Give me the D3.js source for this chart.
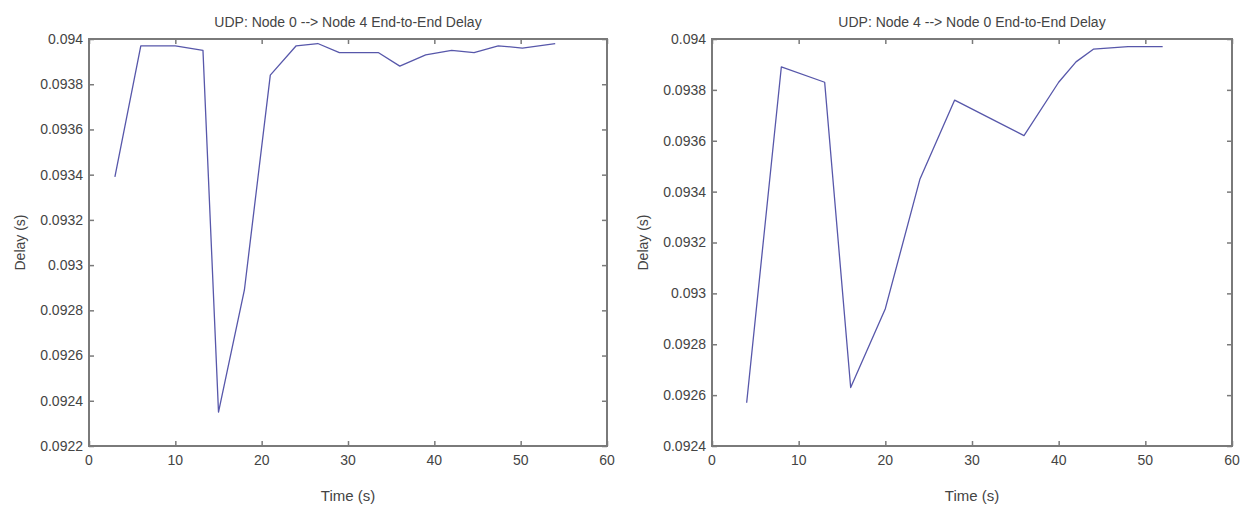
<!DOCTYPE html>
<html>
<head>
<meta charset="utf-8">
<script src="https://cdn.jsdelivr.net/npm/d3@7"></script>
<style>
  html, body { margin: 0; padding: 0; background: #fff; }
  svg { display: block; font-family: "Liberation Sans", Arial, sans-serif; }
</style>
</head>
<body>
<div id="chart"></div>
<script>
// readings from the two MATLAB figures
const leftTime  = [3, 6, 10, 13.2, 15, 18, 21, 24, 26.5, 29, 33.5, 36, 39, 42, 44.6, 47.4, 50.2, 54];
const leftDelay = [0.09339, 0.09397, 0.09397, 0.09395, 0.09235, 0.09289, 0.09384, 0.09397, 0.09398,
                   0.09394, 0.09394, 0.09388, 0.09393, 0.09395, 0.09394, 0.09397, 0.09396, 0.09398];

const rightTime  = [4, 8, 13, 16, 20, 24, 28, 32, 36, 40, 42, 44, 48, 52];
const rightDelay = [0.09257, 0.09389, 0.09383, 0.09263, 0.09294, 0.09345, 0.09376, 0.09369,
                    0.09362, 0.09383, 0.09391, 0.09396, 0.09397, 0.09397];

const xTicks = [0, 10, 20, 30, 40, 50, 60];
const leftYTicks  = [0.0922, 0.0924, 0.0926, 0.0928, 0.093, 0.0932, 0.0934, 0.0936, 0.0938, 0.094];
const rightYTicks = [0.0924, 0.0926, 0.0928, 0.093, 0.0932, 0.0934, 0.0936, 0.0938, 0.094];

const titles = ["UDP: Node 0 --> Node 4 End-to-End Delay", "UDP: Node 4 --> Node 0 End-to-End Delay"];

const W = 1247, H = 508;
const axisCol = "#7a7a7a", textCol = "#444", lineCol = "#5757aa";
const tickLen = 5;

const svg = d3.select("#chart").append("svg")
  .attr("width", W)
  .attr("height", H);

svg.append("rect").attr("width", W).attr("height", H).attr("fill", "#fff");

const fmt = d => String(+d.toFixed(4));

function drawPanel(p) {
  const x = d3.scaleLinear().domain([0, 60]).range([p.left, p.right]);
  const y = d3.scaleLinear().domain(p.yDomain).range([p.bottom, p.top]);

  const g = svg.append("g");

  // box
  g.append("rect")
    .attr("x", p.left).attr("y", p.top)
    .attr("width", p.right - p.left).attr("height", p.bottom - p.top)
    .attr("fill", "none").attr("stroke", axisCol).attr("stroke-width", 2);

  // inward ticks on all four sides
  const bottomAx = g.append("g")
    .attr("transform", `translate(0,${p.bottom})`)
    .call(d3.axisTop(x).tickValues(xTicks).tickSize(tickLen).tickFormat(""));
  const topAx = g.append("g")
    .attr("transform", `translate(0,${p.top})`)
    .call(d3.axisBottom(x).tickValues(xTicks).tickSize(tickLen).tickFormat(""));
  const leftAx = g.append("g")
    .attr("transform", `translate(${p.left},0)`)
    .call(d3.axisRight(y).tickValues(p.yTicks).tickSize(tickLen).tickFormat(""));
  const rightAx = g.append("g")
    .attr("transform", `translate(${p.right},0)`)
    .call(d3.axisLeft(y).tickValues(p.yTicks).tickSize(tickLen).tickFormat(""));
  [bottomAx, topAx, leftAx, rightAx].forEach(a => {
    a.select(".domain").remove();
    a.selectAll("line").attr("stroke", axisCol).attr("stroke-width", 1.5);
  });

  // tick labels
  g.append("g").selectAll("text")
    .data(xTicks)
    .join("text")
    .attr("x", d => x(d))
    .attr("y", p.bottom + 19)
    .attr("text-anchor", "middle")
    .attr("font-size", 14)
    .attr("fill", textCol)
    .text(d => d);

  g.append("g").selectAll("text")
    .data(p.yTicks)
    .join("text")
    .attr("x", p.left - 6)
    .attr("y", d => y(d))
    .attr("dy", "0.35em")
    .attr("text-anchor", "end")
    .attr("font-size", 14)
    .attr("fill", textCol)
    .text(fmt);

  // title + axis labels
  g.append("text")
    .attr("x", (p.left + p.right) / 2)
    .attr("y", p.top - 12)
    .attr("text-anchor", "middle")
    .attr("font-size", 14)
    .attr("fill", textCol)
    .text(p.title);

  g.append("text")
    .attr("x", (p.left + p.right) / 2)
    .attr("y", p.bottom + 55)
    .attr("text-anchor", "middle")
    .attr("font-size", 15)
    .attr("fill", textCol)
    .text("Time (s)");

  g.append("text")
    .attr("transform", `translate(${p.left - 64},${(p.top + p.bottom) / 2}) rotate(-90)`)
    .attr("text-anchor", "middle")
    .attr("font-size", 14)
    .attr("fill", textCol)
    .text("Delay (s)");

  const line = d3.line()
    .x((d, i) => x(p.time[i]))
    .y(d => y(d));

  g.append("path")
    .datum(p.delay)
    .attr("d", line)
    .attr("fill", "none")
    .attr("stroke", lineCol)
    .attr("stroke-width", 1.3)
    .attr("stroke-linejoin", "round");
}

drawPanel({
  left: 89, right: 607, top: 39, bottom: 446,
  yDomain: [0.0922, 0.094], yTicks: leftYTicks,
  time: leftTime, delay: leftDelay, title: titles[0]
});

drawPanel({
  left: 712, right: 1232, top: 39, bottom: 446,
  yDomain: [0.0924, 0.094], yTicks: rightYTicks,
  time: rightTime, delay: rightDelay, title: titles[1]
});
</script>
</body>
</html>
